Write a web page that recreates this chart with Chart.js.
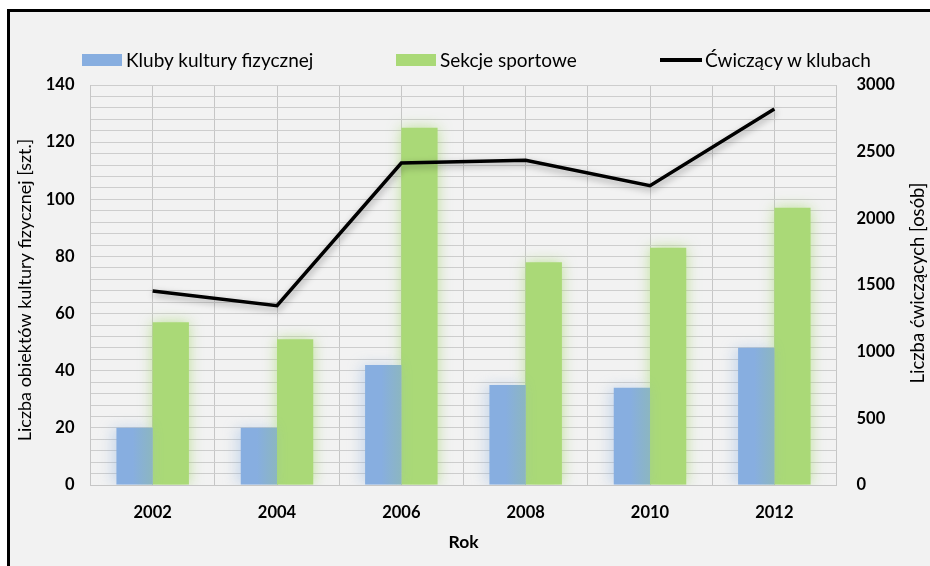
<!DOCTYPE html>
<html><head><meta charset="utf-8">
<script src="https://cdn.jsdelivr.net/npm/chart.js@4.4.0/dist/chart.umd.min.js"></script>
<style>
html,body{margin:0;padding:0;background:#fff;width:930px;height:566px;overflow:hidden;}
#frame{position:absolute;left:7px;top:9px;width:930px;height:570px;background:#f2f2f2;border-left:3px solid #000;border-top:3px solid #000;}
#wrap{position:absolute;left:10px;top:12px;width:920px;height:554px;}
.box{position:absolute;}
.lt{position:absolute;font-family:Lato,sans-serif;font-size:19px;line-height:24px;color:#000;white-space:nowrap;}
</style></head>
<body>
<div id="frame"></div>
<div id="wrap"><canvas id="c" width="920" height="554"></canvas></div>
<div class="box" style="left:82px;top:54px;width:40px;height:12px;background:#87aee0"></div>
<div class="lt" style="left:126px;top:48px">Kluby kultury fizycznej</div>
<div class="box" style="left:396px;top:54px;width:40px;height:12px;background:#aad977"></div>
<div class="lt" style="left:440px;top:48px">Sekcje sportowe</div>
<div class="box" style="left:660px;top:58px;width:42px;height:4px;background:#000"></div>
<div class="lt" style="left:705px;top:48px">Ćwiczący w klubach</div>
<script>
const years = ['2002','2004','2006','2008','2010','2012'];
const clubs = [20, 20, 42, 35, 34, 48];
const sections = [57, 51, 125, 78, 83, 97];
const exercisers = [1455, 1345, 2415, 2435, 2245, 2820];
const leftTickLabels = [0, 20, 40, 60, 80, 100, 120, 140];
const rightTickLabels = [0, 500, 1000, 1500, 2000, 2500, 3000];
const leftTitle = 'Liczba obiektów kultury fizycznej [szt.]';
const rightTitle = 'Liczba ćwiczących [osób]';
const xTitle = 'Rok';

const shadowPlugin = {
  id: 'shadows',
  beforeDatasetDraw(chart, args) {
    const ctx = chart.ctx;
    const ds = chart.data.datasets[args.index];
    ctx.save();
    if (ds.type === 'line') {
      ctx.shadowColor = 'rgba(0,0,0,0.35)';
      ctx.shadowBlur = 7;
      ctx.shadowOffsetX = 1;
      ctx.shadowOffsetY = 3;
    } else if (ds.glow) {
      ctx.shadowColor = ds.glow;
      ctx.shadowBlur = 14;
      ctx.shadowOffsetX = ds.glowDx || 0;
      ctx.shadowOffsetY = 0;
    }
  },
  afterDatasetDraw(chart, args) {
    const ctx = chart.ctx;
    ctx.restore();
    const ds = chart.data.datasets[args.index];
    if (ds.tint) {
      // soft tint from neighbouring green glow on the right side of each blue bar
      ctx.save();
      args.meta.data.forEach(el => {
        const left = el.x - el.width / 2, right = el.x + el.width / 2;
        const g = ctx.createLinearGradient(left, 0, right, 0);
        g.addColorStop(0, 'rgba(150,200,120,0)');
        g.addColorStop(0.45, 'rgba(150,200,120,0)');
        g.addColorStop(1, ds.tint);
        ctx.fillStyle = g;
        ctx.fillRect(left, Math.min(el.y, el.base), el.width, Math.abs(el.base - el.y));
      });
      ctx.restore();
    }
  }
};

const titlePlugin = {
  id: 'titles',
  afterDraw(chart) {
    const ctx = chart.ctx;
    ctx.save();
    ctx.fillStyle = '#000';
    ctx.textAlign = 'center';
    ctx.textBaseline = 'middle';
    ctx.font = '18px Lato';
    ctx.save(); ctx.translate(15, 278); ctx.rotate(-Math.PI/2); ctx.fillText(leftTitle, 0, 0); ctx.restore();
    ctx.font = '18.5px Lato';
    ctx.save(); ctx.translate(908, 271); ctx.rotate(-Math.PI/2); ctx.fillText(rightTitle, 0, 0); ctx.restore();
    ctx.font = 'bold 17.5px Lato';
    ctx.fillText(xTitle, (chart.chartArea.left + chart.chartArea.right)/2, 530);
    ctx.restore();
  }
};

const tickFont = {family: 'Lato', size: 16.5, weight: 'bold'};

new Chart(document.getElementById('c'), {
  data: {
    labels: years,
    datasets: [
      {type: 'line', label: 'Ćwiczący w klubach', data: exercisers, yAxisID: 'y1', borderColor: '#000', borderWidth: 3.5, pointRadius: 0, tension: 0, order: 0, fill: false},
      {type: 'bar', label: 'Kluby kultury fizycznej', data: clubs, yAxisID: 'y', backgroundColor: '#87aee0', glow: 'rgba(135,174,224,0.4)', glowDx: -4, tint: 'rgba(150,200,120,0.3)', order: 1, categoryPercentage: 0.583, barPercentage: 1},
      {type: 'bar', label: 'Sekcje sportowe', data: sections, yAxisID: 'y', backgroundColor: '#aad977', glow: 'rgba(170,217,119,0.75)', order: 2, categoryPercentage: 0.583, barPercentage: 1}
    ]
  },
  options: {
    responsive: false,
    animation: false,
    layout: {padding: {top: 73, left: 0, right: 0, bottom: 0}},
    plugins: {legend: {display: false}, tooltip: {enabled: false}},
    scales: {
      x: {
        type: 'category', position: 'bottom', offset: true,
        grid: {offset: true, color: '#c6c6c6', drawTicks: false},
        border: {color: '#c6c6c6'},
        ticks: {font: tickFont, color: '#000', padding: 18, maxRotation: 0},
        afterFit(s) { s.height = 81; }
      },
      x2: {
        type: 'category', position: 'bottom', offset: true,
        grid: {offset: false, color: '#c6c6c6', drawTicks: false},
        border: {display: false},
        ticks: {display: false},
        afterFit(s) { s.height = 0; }
      },
      y: {
        type: 'linear', position: 'left', min: 0, max: 140,
        grid: {color: '#cdcdcd', drawTicks: false},
        border: {color: '#c6c6c6'},
        ticks: {stepSize: 4, autoSkip: false, font: tickFont, color: '#000', padding: 16,
          callback: v => leftTickLabels.includes(v) ? String(v) : ''},
        afterFit(s) { s.width = 80.5; }
      },
      y1: {
        type: 'linear', position: 'right', min: 0, max: 3000,
        grid: {display: false, drawTicks: false},
        border: {display: false},
        ticks: {stepSize: 500, font: tickFont, color: '#000', padding: 20,
          callback: v => rightTickLabels.includes(v) ? String(v) : ''},
        afterFit(s) { s.width = 93.5; }
      }
    }
  },
  plugins: [shadowPlugin, titlePlugin]
});
</script>
</body></html>
